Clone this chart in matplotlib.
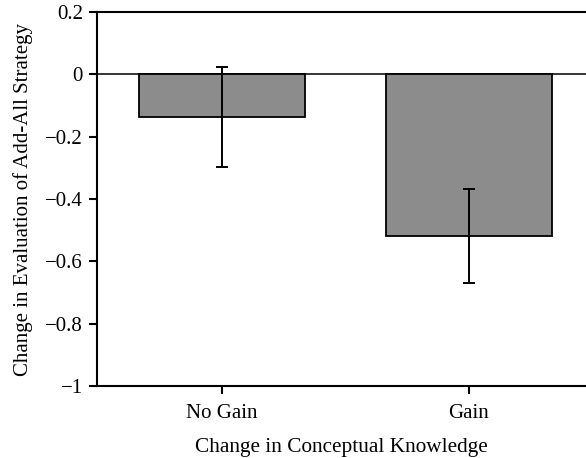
import numpy as np
import matplotlib
matplotlib.use("Agg")
import matplotlib.pyplot as plt

plt.rcParams['font.family'] = ['Liberation Serif', 'DejaVu Serif']

# group means and error bar half-widths
groups = ['No Gain', 'Gain']
means = [-0.137, -0.519]
errors = [0.160, 0.150]

fig = plt.figure(figsize=(5.86, 4.58), dpi=100)
ax = fig.add_axes([0.1655, 0.157, 0.8345, 0.817])

x = np.arange(len(groups))
ax.bar(x, means, width=0.67, color='#8c8c8c', edgecolor='black', linewidth=1.3, zorder=2)
ax.errorbar(x, means, yerr=errors, fmt='none', ecolor='black', elinewidth=1.4,
            capsize=4.3, capthick=1.4, zorder=3)
ax.axhline(0, color='black', linewidth=1.1, zorder=1)

ax.set_xlim(-0.506, 1.474)
ax.set_ylim(-1, 0.2)
ax.set_xticks(x)
ax.set_xticklabels(groups)
ax.set_yticks([0.2, 0, -0.2, -0.4, -0.6, -0.8, -1])
ax.set_yticklabels(['0.2', '0', '\u22120.2', '\u22120.4', '\u22120.6', '\u22120.8', '\u22121'])

for side in ['left', 'bottom', 'top']:
    ax.spines[side].set_linewidth(1.5)
ax.spines['right'].set_visible(False)
ax.tick_params(axis='both', direction='out', length=6, width=1.5, labelsize=15, pad=4)
ax.tick_params(axis='x', pad=7)

ax.set_xlabel('Change in Conceptual Knowledge', fontsize=15.3, labelpad=10.5)
ax.set_ylabel('Change in Evaluation of Add-All Strategy', fontsize=15, labelpad=9)

fig.savefig('out.png', dpi=100)
